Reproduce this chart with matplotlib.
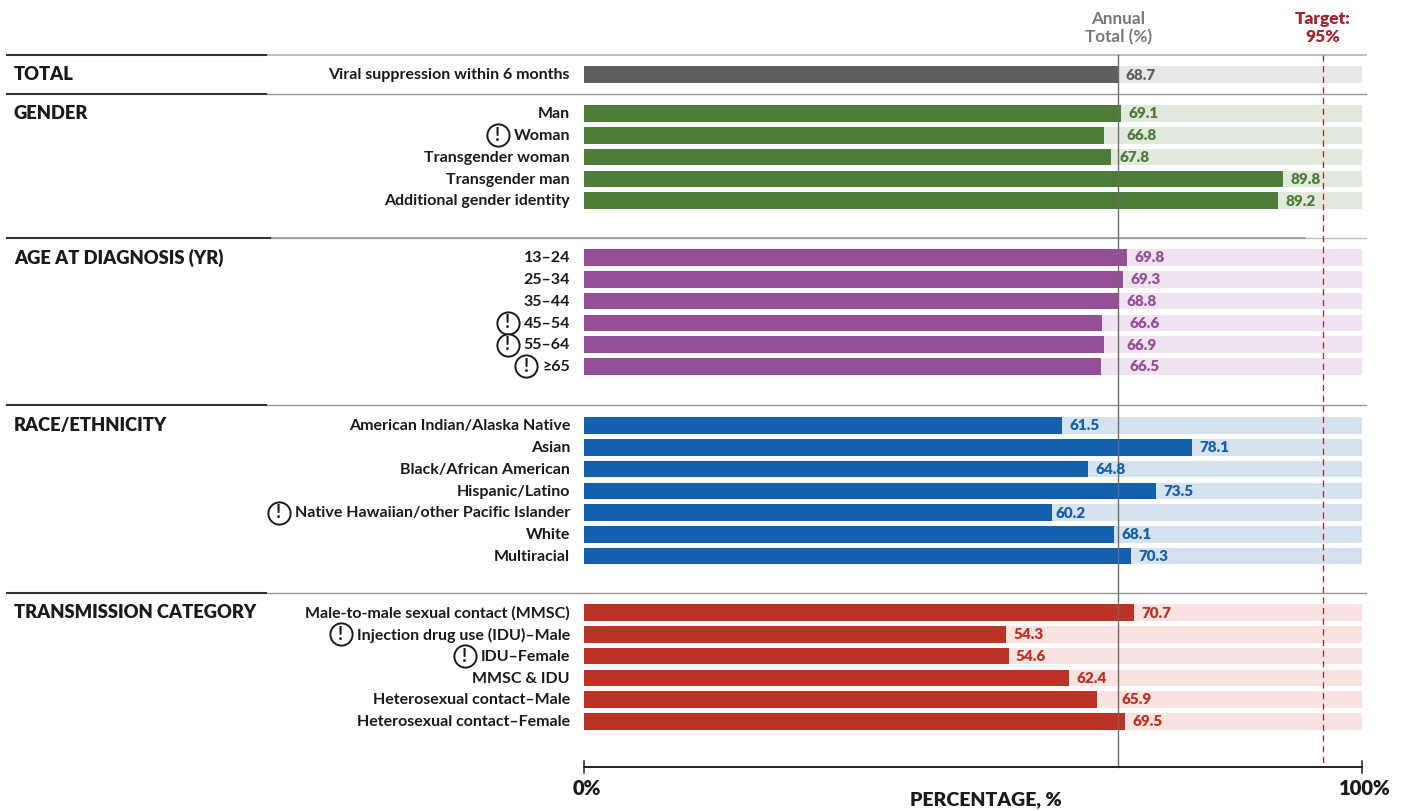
import matplotlib
matplotlib.use('Agg')
import matplotlib.pyplot as plt

plt.rcParams['font.family'] = ['Lato', 'DejaVu Sans']

# group name, colour, track colour
group_names = ['TOTAL', 'GENDER', 'AGE AT DIAGNOSIS (YR)', 'RACE/ETHNICITY', 'TRANSMISSION CATEGORY']
group_colors = ['#5f5f60', '#4f7b38', '#954f98', '#1560ac', '#bc3326']
track_colors = ['#e8e8e8', '#e1e9dd', '#efe3f0', '#d7e2ef', '#f8e3e1']

total_labels = ['Viral suppression within 6 months']
total_values = [68.7]
gender_labels = ['Man', 'Woman', 'Transgender woman', 'Transgender man', 'Additional gender identity']
gender_values = [69.1, 66.8, 67.8, 89.8, 89.2]
age_labels = ['13–24', '25–34', '35–44', '45–54', '55–64', '≥65']
age_values = [69.8, 69.3, 68.8, 66.6, 66.9, 66.5]
race_labels = ['American Indian/Alaska Native', 'Asian', 'Black/African American', 'Hispanic/Latino',
               'Native Hawaiian/other Pacific Islander', 'White', 'Multiracial']
race_values = [61.5, 78.1, 64.8, 73.5, 60.2, 68.1, 70.3]
trans_labels = ['Male-to-male sexual contact (MMSC)', 'Injection drug use (IDU)–Male', 'IDU–Female',
                'MMSC & IDU', 'Heterosexual contact–Male', 'Heterosexual contact–Female']
trans_values = [70.7, 54.3, 54.6, 62.4, 65.9, 69.5]

all_labels = [total_labels, gender_labels, age_labels, race_labels, trans_labels]
all_values = [total_values, gender_values, age_values, race_values, trans_values]

# rows that get the circled exclamation mark
flagged = ['Woman', '45–54', '55–64', '≥65', 'Native Hawaiian/other Pacific Islander',
           'Injection drug use (IDU)–Male', 'IDU–Female']

annual_total = 68.7
target = 95

# layout, everything in pixels except the x of the bars
X0 = 583.5
PX_PER_PCT = 7.785
W, H = 1404, 811
group_tops = [55, 94, 238, 405, 593]
first_rows = [74.5, 113.5, 257.5, 425.5, 612.5]
ROW_STEP = 21.75
BAR_H = 16.5
AXIS_Y = 767
# value labels that sit further away from the end of their bar
label_nudge = {'Woman': 15, 'Transgender woman': 1, '45–54': 20, '55–64': 15, '≥65': 21,
               'Native Hawaiian/other Pacific Islander': -4, 'Heterosexual contact–Male': 17}


def px(x):
    return (x - X0) / PX_PER_PCT


fig = plt.figure(figsize=(W / 100, H / 100), dpi=100)
ax = fig.add_axes([0, 0, 1, 1])
ax.set_xlim(px(0), px(W))
ax.set_ylim(H, 0)
ax.axis('off')

# section rules: dark on the left, light across the rest
for i, top in enumerate(group_tops):
    end = 270 if i == 2 else 266
    ax.plot([px(end), px(1366)], [top, top], color='#bdbdbd' if i in (0, 2) else '#969696', lw=1.0 if i else 1.4,
            zorder=1)
    if i == 2:
        ax.plot([px(end), px(1305)], [top, top], color='#8e8e8e', lw=1.1, zorder=1.2)
    ax.plot([px(7), px(end)], [top, top], color='#333333', lw=1.5, zorder=2)
    ax.text(px(14), first_rows[i] + (0 if i < 4 else 0.5), group_names[i], fontsize=13.2, fontweight='heavy',
            color='#1a1a1a', va='center', ha='left')

fig.canvas.draw()
renderer = fig.canvas.get_renderer()

for i in range(len(group_names)):
    for j, (label, value) in enumerate(zip(all_labels[i], all_values[i])):
        y = first_rows[i] + j * ROW_STEP
        ax.barh(y, 100, height=BAR_H, left=0, color=track_colors[i], zorder=1.5)
        ax.barh(y, value, height=BAR_H, left=0, color=group_colors[i], zorder=2)
        t = ax.text(px(570), y + 0.8, label, fontsize=11.5, fontweight='bold', color='#1a1a1a', ha='right', va='center')
        ax.text(value + (7.5 + label_nudge.get(label, 0)) / PX_PER_PCT, y + 0.5, f'{value}', fontsize=11,
                fontweight='heavy', color=group_colors[i], ha='left', va='center', zorder=4)
        if label in flagged:
            left = t.get_window_extent(renderer).x0
            ax.plot([px(left - 16)], [y], marker='o', ms=16, mfc='white', mec='#1a1a1a', mew=1.4, zorder=3)
            ax.text(px(left - 16), y, '!', fontsize=13, fontweight='bold', color='#1a1a1a', ha='center', va='center',
                    zorder=4)

# reference lines
ax.plot([annual_total, annual_total], [55, AXIS_Y], color='#6b6b6b', lw=1.0, zorder=3)
ax.plot([target, target], [55, AXIS_Y], color='#a6242f', lw=0.9, ls=(0, (5, 3.5)), zorder=3)
ax.text(annual_total, 28, 'Annual\nTotal (%)', fontsize=12.3, fontweight='bold', color='#77787b', ha='center',
        va='center', linespacing=1.2)
ax.text(target, 28, 'Target:\n95%', fontsize=12.5, fontweight='heavy', color='#a6242f', ha='center', va='center',
        linespacing=1.2)

# percentage axis
ax.plot([0, 100], [AXIS_Y, AXIS_Y], color='#222222', lw=1.4, zorder=4)
for tick in [0, 100]:
    ax.plot([tick, tick], [AXIS_Y - 6, AXIS_Y + 6], color='#222222', lw=1.1, zorder=4)
ax.text(0.4, 788.5, '0%', fontsize=14.5, fontweight='heavy', color='#1a1a1a', ha='center', va='center')
ax.text(100.4, 788.5, '100%', fontsize=14.5, fontweight='heavy', color='#1a1a1a', ha='center', va='center')
ax.text(px(986), 799.5, 'PERCENTAGE, %', fontsize=14, fontweight='heavy', color='#1a1a1a', ha='center', va='center')

fig.savefig('out.png', dpi=100, facecolor='white')
